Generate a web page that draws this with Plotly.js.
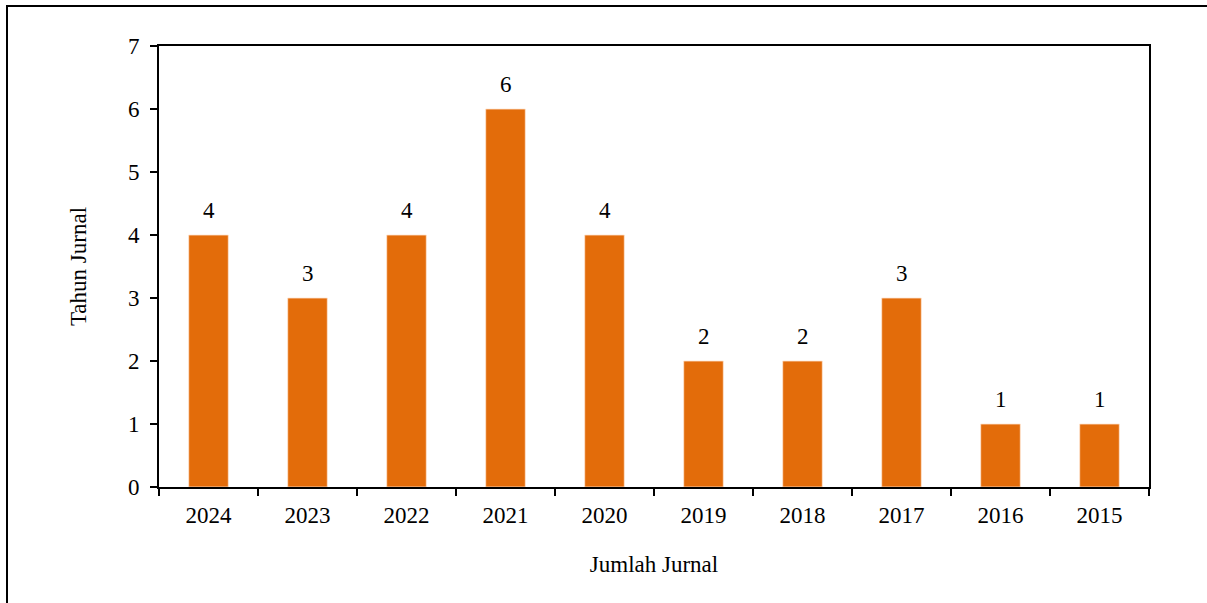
<!DOCTYPE html>
<html>
<head>
<meta charset="utf-8">
<script src="https://cdn.plot.ly/plotly-3.0.1.min.js"></script>
<style>
  html, body { margin: 0; padding: 0; background: #fff; }
  #wrap { position: relative; width: 1207px; height: 603px; }
  #chart { position: absolute; left: 0; top: 0; width: 1207px; height: 603px; }
  #frame { position: absolute; left: 6px; top: 5px; right: 0; bottom: 0;
           border-left: 2px solid #000; border-top: 2px solid #000; pointer-events: none; }
</style>
</head>
<body>
<div id="wrap">
  <div id="chart"></div>
  <div id="frame"></div>
</div>
<script>
const years = ["2024", "2023", "2022", "2021", "2020", "2019", "2018", "2017", "2016", "2015"];
const counts = [4, 3, 4, 6, 4, 2, 2, 3, 1, 1];
const yTicks = [0, 1, 2, 3, 4, 5, 6, 7];

const FONT = "'Liberation Serif', 'Times New Roman', serif";
const barColor = "#E36C0A";

const trace = {
  type: "bar",
  x: years,
  y: counts,
  width: 0.4,
  marker: { color: barColor, line: { color: "rgba(255,230,210,0.8)", width: 1 } },
  hoverinfo: "x+y"
};

// category axis: annotations positioned by category index
const annotations = years.map((yr, i) => ({
  x: i, y: counts[i], xref: "x", yref: "y",
  text: String(counts[i]), showarrow: false,
  yanchor: "middle", yshift: 25,
  font: { family: FONT, size: 23, color: "#000" }
}));

const layout = {
  width: 1207, height: 603,
  margin: { l: 159, r: 58, t: 46, b: 116 },
  paper_bgcolor: "#fff", plot_bgcolor: "#fff",
  showlegend: false,
  font: { family: FONT, size: 23, color: "#000" },
  xaxis: {
    type: "category",
    categoryorder: "array", categoryarray: years,
    range: [-0.5, 9.5],
    showline: true, linecolor: "#000", linewidth: 2, mirror: true,
    ticks: "outside", tickson: "boundaries", ticklen: 7, tickwidth: 2, tickcolor: "#000",
    ticklabelstandoff: 6,
    showgrid: false, zeroline: false,
    tickfont: { family: FONT, size: 23, color: "#000" },
    title: { text: "Jumlah Jurnal", font: { family: FONT, size: 23, color: "#000" }, standoff: 29 }
  },
  yaxis: {
    range: [0, 7],
    tickvals: yTicks, ticktext: yTicks.map(String),
    showline: true, linecolor: "#000", linewidth: 2, mirror: true,
    ticks: "outside", ticklen: 7, tickwidth: 2, tickcolor: "#000",
    ticklabelstandoff: 6,
    showgrid: false, zeroline: false,
    tickfont: { family: FONT, size: 23, color: "#000" },
    title: { text: "Tahun Jurnal", font: { family: FONT, size: 23, color: "#000" }, standoff: 35 }
  },
  annotations: annotations
};

Plotly.newPlot("chart", [trace], layout, { displayModeBar: false, staticPlot: true });
</script>
</body>
</html>
